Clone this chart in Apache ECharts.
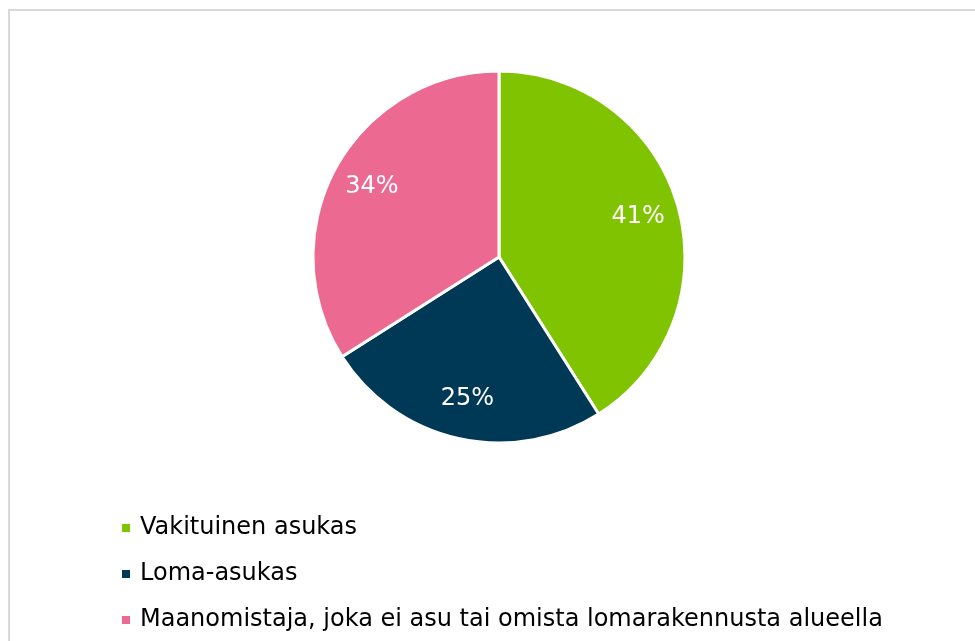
<!DOCTYPE html>
<html>
<head>
<meta charset="utf-8">
<script src="https://cdn.jsdelivr.net/npm/echarts@6/dist/echarts.min.js"></script>
<style>
  html, body { margin: 0; padding: 0; background: #fff; }
  #chart { width: 975px; height: 641px; }
</style>
</head>
<body>
<div id="chart"></div>
<script>
// Respondent groups, shares in percent, clockwise from 12 o'clock
const categories = ['Vakituinen asukas', 'Loma-asukas', 'Maanomistaja, joka ei asu tai omista lomarakennusta alueella'];
const shares = [41, 25, 34];
const colors = ['#80C300', '#003955', '#EC6991'];

const FONT = '"DejaVu Sans", Verdana, sans-serif';
const chart = echarts.init(document.getElementById('chart'));

const slices = categories.map((name, i) => ({ name, value: shares[i], itemStyle: { color: colors[i] } }));

chart.setOption({
  animation: false,
  backgroundColor: '#fff',
  graphic: [{
    type: 'rect',
    shape: { x: 9, y: 10, width: 1200, height: 1000 },
    style: { fill: 'none', stroke: '#d9d9d9', lineWidth: 2 },
    silent: true,
  }],
  legend: {
    orient: 'vertical',
    left: 115,
    top: 511,
    itemWidth: 10,
    itemHeight: 10,
    itemGap: 22,
    icon: 'rect',
    data: categories,
    textStyle: { fontFamily: FONT, fontSize: 24, color: '#000', padding: [0, 0, 0, 4] },
  },
  series: [
    {
      type: 'pie',
      center: [499, 257],
      radius: 186,
      startAngle: 90,
      clockwise: true,
      label: { show: false },
      labelLine: { show: false },
      itemStyle: { borderColor: '#fff', borderWidth: 3 },
      data: slices,
    },
    {
      // transparent ring only to place percentage labels at ~3/4 radius
      type: 'pie',
      center: [499, 257],
      radius: [98, 186],
      startAngle: 90,
      clockwise: true,
      silent: true,
      legendHoverLink: false,
      itemStyle: { color: 'rgba(0,0,0,0)', borderWidth: 0 },
      label: {
        show: true,
        position: 'inside',
        formatter: p => p.value + '%',
        fontFamily: FONT,
        fontSize: 24,
        color: '#fff',
      },
      data: categories.map((name, i) => ({ name: name + ' ', value: shares[i] })),
    },
  ],
});
</script>
</body>
</html>
